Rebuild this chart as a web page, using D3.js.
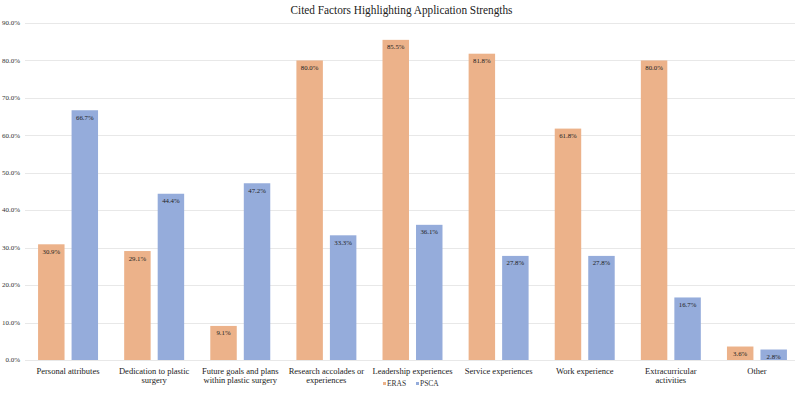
<!DOCTYPE html>
<meta charset="utf-8">
<head>
    <style>
        body {
            margin: 0;
            background: white;
            font-family: "Liberation Serif", "Times New Roman", serif;
        }

        .grid line {
            stroke: #e8e8e8;
            shape-rendering: crispEdges;
        }

        .grid path {
            stroke-width: 0;
        }
    </style>
</head>

<body>
    <script src="https://d3js.org/d3.v7.min.js"></script>
    <div id="chart"></div>

    <script>
        // data
        var categories = [
            ["Personal attributes"],
            ["Dedication to plastic", "surgery"],
            ["Future goals and plans", "within plastic surgery"],
            ["Research accolades or", "experiences"],
            ["Leadership experiences"],
            ["Service experiences"],
            ["Work experience"],
            ["Extracurricular", "activities"],
            ["Other"]
        ];
        var erasValues = [30.9, 29.1, 9.1, 80.0, 85.5, 81.8, 61.8, 80.0, 3.6];
        var pscaValues = [66.7, 44.4, 47.2, 33.3, 36.1, 27.8, 27.8, 16.7, 2.8];
        var seriesNames = ["ERAS", "PSCA"];
        var yTicks = [0, 10, 20, 30, 40, 50, 60, 70, 80, 90];

        var colors = { ERAS: "#ecb28a", PSCA: "#95acdb" };

        var W = 800, H = 396;
        var margin = { top: 23, right: 0, bottom: 36, left: 25 },
            width = W - margin.left - margin.right,
            height = H - margin.top - margin.bottom;

        var svg = d3.select("#chart").append("svg")
            .attr("width", W)
            .attr("height", H);

        // title
        svg.append("text")
            .attr("x", 401.5)
            .attr("y", 13.5)
            .attr("text-anchor", "middle")
            .attr("textLength", 222)
            .attr("lengthAdjust", "spacingAndGlyphs")
            .style("font-size", "11.5px")
            .style("fill", "#222")
            .text("Cited Factors Highlighting Application Strengths");

        var g = svg.append("g")
            .attr("transform", "translate(" + margin.left + "," + margin.top + ")");

        var x0 = d3.scaleBand()
            .domain(d3.range(categories.length))
            .range([0, width])
            .paddingInner(0)
            .paddingOuter(0);

        var x1 = d3.scaleBand()
            .domain(seriesNames)
            .range([0, x0.bandwidth()])
            .paddingInner(0.21)
            .paddingOuter(0.39);

        var y = d3.scaleLinear()
            .domain([0, 90])
            .range([height, 0]);

        // y grid lines
        g.append("g")
            .attr("class", "grid")
            .call(d3.axisLeft(y).tickValues(yTicks).tickSize(-width + 5).tickFormat(""));

        // y tick labels
        g.append("g")
            .selectAll("text")
            .data(yTicks)
            .enter()
            .append("text")
            .attr("x", -5)
            .attr("y", function (d) { return y(d); })
            .attr("dy", "0.32em")
            .attr("text-anchor", "end")
            .style("font-size", "7px")
            .style("fill", "#333")
            .text(function (d) { return d.toFixed(1) + "%"; });

        var rows = categories.map(function (c, i) {
            return { i: i, vals: [
                { key: "ERAS", v: erasValues[i] },
                { key: "PSCA", v: pscaValues[i] }
            ] };
        });

        var groups = g.selectAll("g.cat")
            .data(rows)
            .enter()
            .append("g")
            .attr("class", "cat")
            .attr("transform", function (d) { return "translate(" + x0(d.i) + ",0)"; });

        groups.selectAll("rect")
            .data(function (d) { return d.vals; })
            .enter()
            .append("rect")
            .attr("x", function (d) { return x1(d.key); })
            .attr("y", function (d) { return y(d.v); })
            .attr("width", x1.bandwidth())
            .attr("height", function (d) { return height - y(d.v); })
            .style("fill", function (d) { return colors[d.key]; });

        // value labels inside bars, near the top
        groups.selectAll("text.val")
            .data(function (d) { return d.vals; })
            .enter()
            .append("text")
            .attr("class", "val")
            .attr("x", function (d) { return x1(d.key) + x1.bandwidth() / 2; })
            .attr("y", function (d) { return y(d.v) + 9.5; })
            .attr("text-anchor", "middle")
            .style("font-size", "6.8px")
            .style("fill", "#222")
            .text(function (d) { return d.v.toFixed(1) + "%"; });

        // category labels
        groups.append("text")
            .attr("x", x0.bandwidth() / 2)
            .attr("y", height + 14)
            .attr("text-anchor", "middle")
            .style("font-size", "8.5px")
            .style("fill", "#222")
            .selectAll("tspan")
            .data(function (d) { return categories[d.i]; })
            .enter()
            .append("tspan")
            .attr("x", x0.bandwidth() / 2)
            .attr("dy", function (d, k) { return k === 0 ? 0 : "1.1em"; })
            .text(function (d) { return d; });

        // legend
        var legend = svg.append("g")
            .attr("transform", "translate(383,386)");
        seriesNames.forEach(function (s, k) {
            var item = legend.append("g").attr("transform", "translate(" + (k * 33) + ",0)");
            item.append("rect")
                .attr("x", 0).attr("y", -4)
                .attr("width", 3).attr("height", 3)
                .style("fill", colors[s]);
            item.append("text")
                .attr("x", 4).attr("y", 0)
                .style("font-size", "7.5px")
                .style("fill", "#333")
                .text(s);
        });
    </script>
</body>
